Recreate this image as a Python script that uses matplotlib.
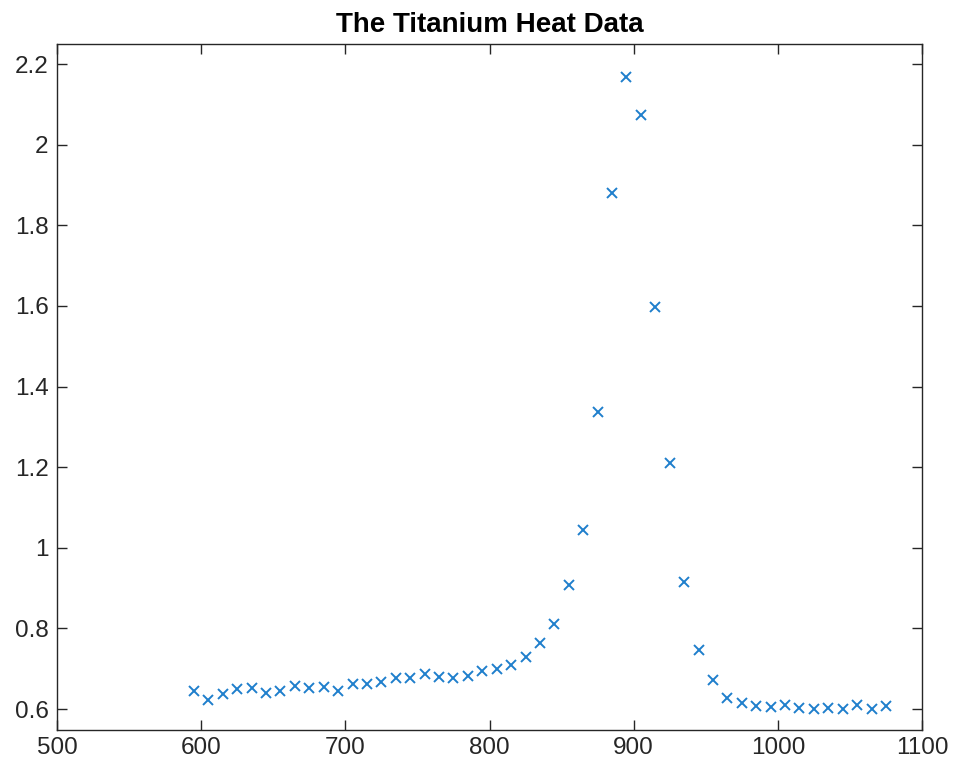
import matplotlib
matplotlib.use('Agg')
import matplotlib.pyplot as plt
import numpy as np

# titanium heat data
temperature = np.arange(595, 1076, 10)
heat = [0.644, 0.622, 0.638, 0.649, 0.652, 0.639, 0.646, 0.657, 0.652, 0.655,
        0.644, 0.663, 0.663, 0.668, 0.676, 0.676, 0.686, 0.679, 0.678, 0.683,
        0.694, 0.699, 0.710, 0.730, 0.763, 0.812, 0.907, 1.044, 1.336, 1.881,
        2.169, 2.075, 1.598, 1.211, 0.916, 0.746, 0.672, 0.627, 0.615, 0.607,
        0.606, 0.609, 0.603, 0.601, 0.603, 0.601, 0.611, 0.601, 0.608]
xticks = [500, 600, 700, 800, 900, 1000, 1100]
yticks = [0.6, 0.8, 1, 1.2, 1.4, 1.6, 1.8, 2, 2.2]
yticklabels = ['0.6', '0.8', '1', '1.2', '1.4', '1.6', '1.8', '2', '2.2']

plt.rcParams['font.family'] = ['Liberation Sans', 'DejaVu Sans']

fig = plt.figure(figsize=(9.54, 7.68), dpi=100)
ax = fig.add_axes([57 / 954, 1 - 730 / 768, 865 / 954, 686 / 768])

ax.plot(temperature, heat, 'x', color='#1f7fcc', markersize=7.5, markeredgewidth=1.4)

ax.set_xlim(500, 1100)
ax.set_ylim(0.548, 2.25)
ax.set_xticks(xticks)
ax.set_yticks(yticks)
ax.set_yticklabels(yticklabels)
ax.tick_params(direction='in', length=7, width=1, labelsize=17.5, colors='#262626',
               top=True, right=True)
ax.tick_params(axis='y', pad=6)
ax.tick_params(axis='x', pad=5)
for s in ax.spines.values():
    s.set_color('#262626')
    s.set_linewidth(1)
ax.set_title('The Titanium Heat Data', fontsize=20, fontweight='bold', pad=9)

fig.savefig('out.png', dpi=100)
